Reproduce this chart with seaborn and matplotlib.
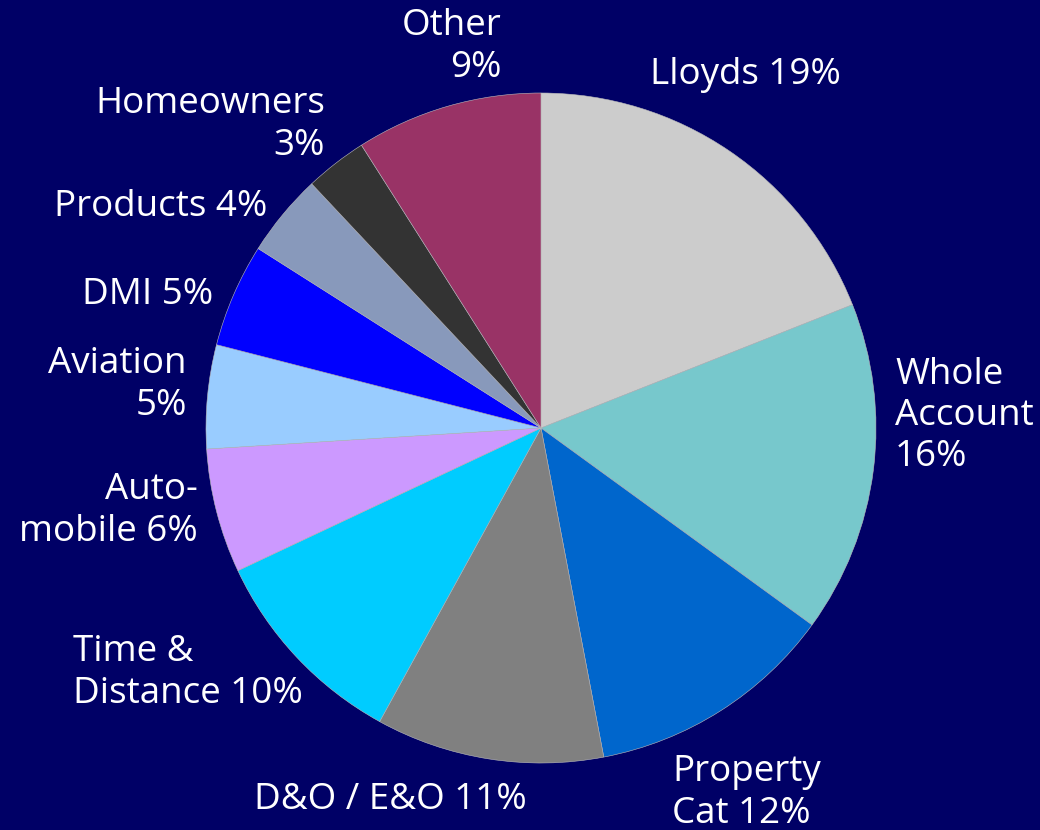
import matplotlib
matplotlib.use("Agg")
import matplotlib.pyplot as plt
import seaborn as sns

categories = ["Lloyds", "Whole Account", "Property Cat", "D&O / E&O", "Time & Distance",
              "Automobile", "Aviation", "DMI", "Products", "Homeowners", "Other"]
shares = [19, 16, 12, 11, 10, 6, 5, 5, 4, 3, 9]
label_texts = ["Lloyds 19%", "Whole\nAccount\n16%", "Property\nCat 12%", "D&O / E&O 11%",
               "Time &\nDistance 10%", "Auto-\nmobile 6%", "Aviation\n5%", "DMI 5%",
               "Products 4%", "Homeowners\n3%", "Other\n9%"]
colors = ["#CCCCCC", "#77C8CC", "#0066CC", "#808080", "#00CCFF", "#CC99FF",
          "#99CCFF", "#0000FF", "#8899BB", "#333333", "#993366"]

# label layout: pixel anchor (x, y centre) and alignment
label_layout = [
    ((650, 75), "left"),
    ((895, 416), "left"),
    ((672, 793), "left"),
    ((390, 800), "center"),
    ((73, 673), "left"),
    ((198, 511), "right"),
    ((187, 385), "right"),
    ((213, 295), "right"),
    ((267, 207), "right"),
    ((325, 125), "right"),
    ((502, 47), "right"),
]

BG = "#000066"
sns.set_theme(style="white")
plt.rcParams["font.family"] = ["Open Sans", "DejaVu Sans"]

W, H = 1040, 830
CX, CY, R = 541, 428, 335
fig = plt.figure(figsize=(W / 100, H / 100), dpi=100, facecolor=BG)
ax = fig.add_axes([0, 0, 1, 1])
ax.set_facecolor(BG)

ax.pie(shares, colors=colors, startangle=90, counterclock=False, radius=1,
       wedgeprops=dict(edgecolor="#BBBBBB", linewidth=0.4))

ax.set_xlim(-CX / R, (W - CX) / R)
ax.set_ylim((CY - H) / R, CY / R)
ax.set_aspect("equal")
ax.axis("off")

for txt, ((px, py), ha) in zip(label_texts, label_layout):
    x = (px - CX) / R
    y = (CY - py) / R
    ax.text(x, y, txt, ha=ha, va="center", color="white", fontsize=26.5,
            linespacing=1.2, multialignment=ha)

fig.savefig("out.png", dpi=100, facecolor=BG)
